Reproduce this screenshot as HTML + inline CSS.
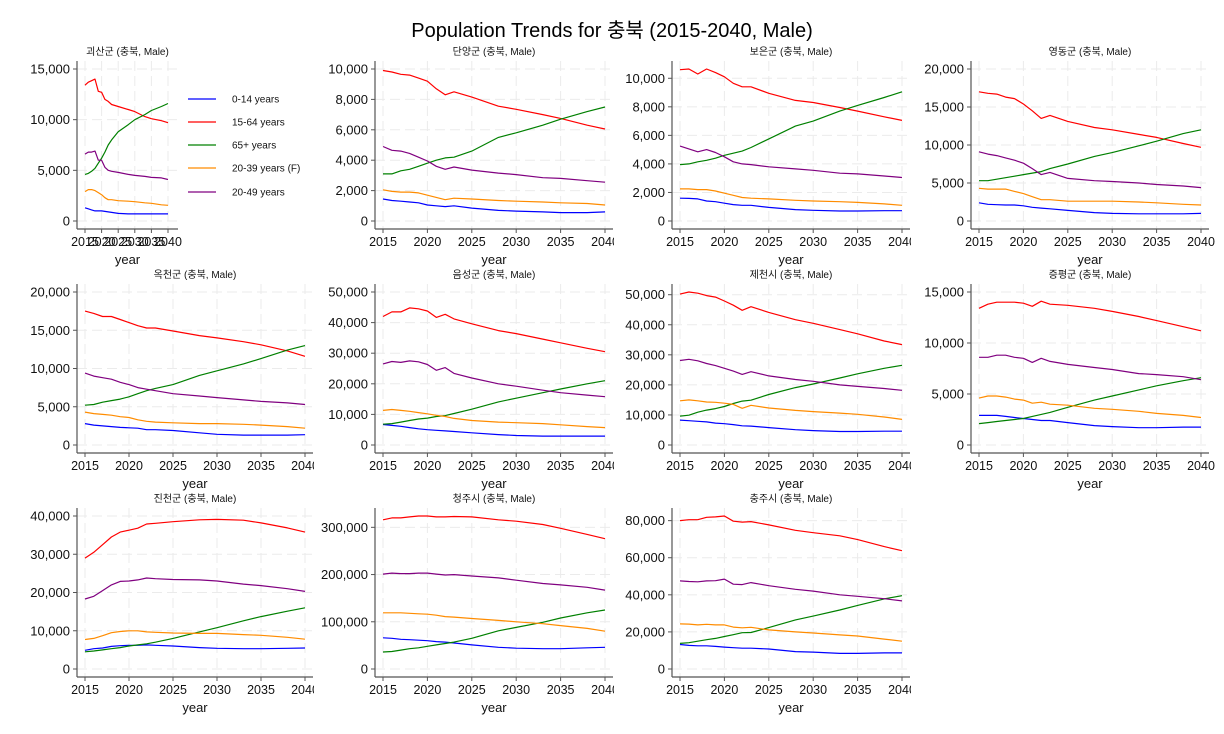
<!DOCTYPE html>
<html><head><meta charset="utf-8">
<style>
html,body{margin:0;padding:0;background:#fff;}
svg{display:block;font-family:"Liberation Sans","Noto Sans CJK KR",sans-serif;}
</style></head>
<body>
<svg id="chart" width="1224" height="734" viewBox="0 0 1224 734">
<rect width="1224" height="734" fill="#fff"/>
<defs id="defs"></defs>
<text x="612" y="37" text-anchor="middle" font-size="20" fill="#000">Population Trends for 충북 (2015-2040, Male)</text>
</svg>
<script>
const years = [2015,2016,2017,2018,2019,2020,2021,2022,2023,2025,2028,2030,2033,2035,2038,2040];
const xTicks = [2015,2020,2025,2030,2035,2040];
const seriesNames = ["0-14 years","15-64 years","65+ years","20-39 years (F)","20-49 years"];
const seriesColors = ["#0000ff","#ff0000","#008000","#ff8c00","#800080"];
const regionNames = ["괴산군","단양군","보은군","영동군","옥천군","음성군","제천시","증평군","진천군","청주시","충주시"];

const goesan_014=[1300,1200,1100,1000,1000,1000,950,900,850,750,700,700,700,700,700,700];
const goesan_1564=[13400,13700,13850,14000,12800,12700,12000,11800,11500,11300,11000,10800,10300,10100,9900,9700];
const goesan_65=[4600,4700,4900,5200,5700,6200,6800,7500,8000,8800,9500,10000,10500,10900,11300,11600];
const goesan_2039=[2900,3100,3100,3000,2800,2600,2300,2100,2100,2000,1950,1900,1800,1750,1600,1550];
const goesan_2049=[6600,6800,6800,6900,6000,6000,5300,5000,4900,4800,4600,4500,4400,4300,4250,4100];

const danyang_014=[1450,1350,1300,1250,1200,1050,1000,950,1000,850,700,650,600,550,550,600];
const danyang_1564=[9900,9800,9650,9600,9400,9200,8700,8300,8500,8150,7550,7350,7000,6750,6300,6050];
const danyang_65=[3100,3100,3300,3400,3600,3800,4000,4150,4200,4600,5500,5800,6300,6700,7200,7500];
const danyang_2039=[2050,1950,1900,1900,1850,1700,1550,1400,1500,1450,1350,1300,1250,1200,1150,1050];
const danyang_2049=[4900,4650,4600,4450,4200,3950,3600,3400,3550,3350,3150,3050,2850,2800,2650,2550];

const boeun_014=[1600,1580,1550,1400,1350,1250,1150,1100,1100,950,800,750,700,700,720,720];
const boeun_1564=[10600,10650,10300,10650,10400,10100,9650,9400,9400,8950,8450,8300,7950,7700,7300,7050];
const boeun_65=[3950,4000,4150,4250,4400,4600,4750,4900,5150,5750,6650,7000,7700,8100,8650,9050];
const boeun_2039=[2250,2250,2200,2200,2100,1950,1800,1650,1600,1550,1450,1400,1350,1300,1200,1100];
const boeun_2049=[5250,5050,4850,5000,4800,4500,4150,4000,3950,3800,3650,3550,3350,3300,3150,3050];

const yeongdong_014=[2400,2200,2150,2100,2100,2000,1800,1700,1600,1400,1100,1000,950,950,950,1000];
const yeongdong_1564=[17000,16800,16700,16300,16100,15400,14500,13500,13900,13100,12300,12000,11400,11000,10200,9700];
const yeongdong_65=[5300,5300,5500,5700,5900,6100,6300,6500,6900,7500,8500,9000,9900,10500,11500,12000];
const yeongdong_2039=[4300,4200,4200,4200,3900,3600,3200,2800,2800,2600,2600,2600,2500,2400,2200,2100];
const yeongdong_2049=[9100,8800,8600,8300,8000,7600,6900,6100,6400,5600,5300,5200,5000,4800,4600,4400];

const okcheon_014=[2800,2600,2500,2400,2300,2250,2200,2000,2000,1900,1600,1400,1300,1300,1300,1350];
const okcheon_1564=[17500,17200,16800,16800,16400,16000,15600,15300,15300,14900,14300,14000,13500,13100,12300,11600];
const okcheon_65=[5200,5300,5600,5800,6000,6300,6700,7100,7400,7900,9100,9700,10600,11300,12400,13000];
const okcheon_2039=[4300,4100,4000,3900,3700,3600,3300,3100,3000,2900,2800,2800,2700,2600,2400,2200];
const okcheon_2049=[9400,9000,8800,8600,8200,7900,7500,7300,7100,6700,6400,6200,5900,5700,5500,5300];

const eumseong_014=[6700,6400,6100,5700,5300,5000,4800,4600,4400,4000,3400,3100,2900,2900,2900,2900];
const eumseong_1564=[42000,43500,43500,44800,44500,43800,41700,42700,41200,39600,37400,36400,34600,33400,31600,30500];
const eumseong_65=[6800,7000,7500,8000,8500,8800,9300,9600,10300,11700,14100,15300,17100,18300,20000,21000];
const eumseong_2039=[11300,11600,11300,11000,10600,10200,9700,9300,8700,8000,7500,7300,7000,6600,6000,5700];
const eumseong_2049=[26500,27300,27000,27500,27200,26300,24400,25300,23400,21900,20000,19200,17900,17100,16300,15800];

const jecheon_014=[8300,8100,7900,7700,7300,7100,6800,6400,6300,5800,5100,4800,4500,4500,4600,4600];
const jecheon_1564=[50200,50900,50500,49700,49200,47900,46500,44800,46000,44100,41700,40500,38400,37000,34600,33400];
const jecheon_65=[9600,9900,10900,11600,12100,12800,13800,14600,14900,16800,19100,20300,22300,23700,25500,26500];
const jecheon_2039=[14700,15000,14700,14300,14200,13900,13500,12200,13200,12300,11500,11100,10600,10200,9300,8500];
const jecheon_2049=[28100,28500,28000,27100,26400,25500,24600,23500,24400,23000,21800,21200,20000,19500,18800,18200];

const jeungpyeong_014=[2900,2900,2900,2800,2700,2600,2500,2400,2400,2200,1900,1800,1700,1700,1750,1750];
const jeungpyeong_1564=[13400,13800,14000,14000,14000,13900,13600,14100,13800,13700,13400,13100,12600,12200,11600,11200];
const jeungpyeong_65=[2100,2200,2300,2400,2500,2600,2800,3000,3200,3700,4400,4800,5400,5800,6300,6600];
const jeungpyeong_2039=[4600,4800,4800,4700,4500,4400,4100,4200,4000,3900,3600,3500,3300,3100,2900,2700];
const jeungpyeong_2049=[8600,8600,8800,8800,8600,8500,8100,8500,8200,7900,7600,7400,7000,6900,6700,6400];

const jincheon_014=[4900,5300,5500,5900,6100,6200,6200,6300,6200,6000,5600,5400,5300,5300,5400,5500];
const jincheon_1564=[29000,30500,32500,34500,35800,36300,36800,37900,38100,38500,39000,39100,38900,38200,36900,35800];
const jincheon_65=[4500,4700,5000,5300,5600,6000,6300,6600,7000,8000,9700,10800,12600,13700,15100,16000];
const jincheon_2039=[7700,8000,8700,9500,9800,10000,10000,9700,9600,9400,9300,9300,9000,8800,8300,7800];
const jincheon_2049=[18300,19000,20500,22000,22900,23000,23300,23800,23600,23400,23300,23000,22200,21800,21000,20300];

const cheongju_014=[66000,65000,63000,62000,61000,60000,58000,57000,55000,51000,46000,44000,43000,43000,45000,46000];
const cheongju_1564=[316000,320000,320000,322000,324000,324000,322000,322000,323000,322000,316000,313000,306000,298000,285000,276000];
const cheongju_65=[36000,37000,40000,43000,45000,48000,51000,54000,57000,65000,81000,88000,99000,108000,119000,125000];
const cheongju_2039=[119000,119000,119000,118000,117000,116000,114000,111000,110000,107000,103000,100000,96000,92000,86000,80000];
const cheongju_2049=[201000,203000,202000,202000,203000,203000,201000,199000,200000,197000,193000,188000,181000,178000,173000,167000];

const chungju_014=[13200,12700,12500,12500,12200,11800,11500,11200,11200,10800,9400,9100,8400,8400,8700,8700];
const chungju_1564=[80000,80500,80500,81800,82000,82500,79700,79200,79500,77700,74800,73500,71800,69800,66000,63800];
const chungju_65=[13800,14200,15000,15800,16500,17500,18500,19600,19700,22300,26500,28500,31800,34300,37800,39500];
const chungju_2039=[24300,24200,23800,24100,23800,23800,22600,22200,22500,21100,20000,19400,18400,17800,16100,15000];
const chungju_2049=[47500,47200,47000,47500,47600,48500,45700,45500,46600,44900,43000,42000,40000,39200,37900,36700];

const yTickStep = [5000,2000,2000,5000,5000,10000,10000,5000,10000,100000,20000];
const yTickMax = [15000,10000,10000,20000,20000,50000,50000,15000,40000,300000,80000];

const panelData = [
 [goesan_014,goesan_1564,goesan_65,goesan_2039,goesan_2049],
 [danyang_014,danyang_1564,danyang_65,danyang_2039,danyang_2049],
 [boeun_014,boeun_1564,boeun_65,boeun_2039,boeun_2049],
 [yeongdong_014,yeongdong_1564,yeongdong_65,yeongdong_2039,yeongdong_2049],
 [okcheon_014,okcheon_1564,okcheon_65,okcheon_2039,okcheon_2049],
 [eumseong_014,eumseong_1564,eumseong_65,eumseong_2039,eumseong_2049],
 [jecheon_014,jecheon_1564,jecheon_65,jecheon_2039,jecheon_2049],
 [jeungpyeong_014,jeungpyeong_1564,jeungpyeong_65,jeungpyeong_2039,jeungpyeong_2049],
 [jincheon_014,jincheon_1564,jincheon_65,jincheon_2039,jincheon_2049],
 [cheongju_014,cheongju_1564,cheongju_65,cheongju_2039,cheongju_2049],
 [chungju_014,chungju_1564,chungju_65,chungju_2039,chungju_2049]
];

const NS="http://www.w3.org/2000/svg";
const svg=document.getElementById('chart');
const defs=document.getElementById('defs');
function mk(tag,attrs,parent){const e=document.createElementNS(NS,tag);for(const k in attrs)e.setAttribute(k,attrs[k]);(parent||svg).appendChild(e);return e;}
const colLayout=[[77,85,168,178],[375,383,605,613],[672,680,902,910],[971,979,1201,1209]];
const rowLayout=[[69,221],[292,445],[516,669]];
function fmt(v){return v.toLocaleString('en-US');}

regionNames.forEach((name,i)=>{
  const r=Math.floor(i/4), c=i%4;
  let [ax,x0,x1,xr]=colLayout[c];
  if(c===0 && i!==0){x1=305;xr=313;}
  const [T,Z]=rowLayout[r];
  const clipLabels = !(i===0 || c===3);
  const cp=mk('clipPath',{id:'clip'+i},defs);
  mk('rect',{x:0,y:0,width:xr+1,height:734},cp);
  const g=mk('g',{});
  
  
  const series=panelData[i];
  let dmax=yTickMax[i];
  series.forEach(s=>s.forEach(v=>{if(v>dmax)dmax=v;}));
  const xs=y=>x0+(y-2015)/(2040-2015)*(x1-x0);
  const ys=v=>Z-(v/dmax)*(Z-T);
  const top=T-8, bot=Z+8;
  for(let v=0;v<=yTickMax[i];v+=yTickStep[i]){
    const gl=mk('line',{x1:ax,x2:xr,y1:ys(v),y2:ys(v),stroke:'#ebebeb','stroke-width':1,'stroke-dasharray':'10,5'},g);
    
    
    const tk=mk('line',{x1:ax-4,x2:ax,y1:ys(v),y2:ys(v),stroke:'#555','stroke-width':1},g);
    
    
    const t=mk('text',{x:ax-7,y:ys(v)+4.5,'text-anchor':'end','font-size':13,fill:'#111'},g);
    t.textContent=fmt(v);
    
    
  }
  const xl=mk('g',clipLabels?{'clip-path':'url(#clip'+i+')'}:{},g);
  
  
  xTicks.forEach(y=>{
    const gl=mk('line',{x1:xs(y),x2:xs(y),y1:top,y2:bot,stroke:'#ebebeb','stroke-width':1,'stroke-dasharray':'10,5'},g);
    
    
    const tk=mk('line',{x1:xs(y),x2:xs(y),y1:bot,y2:bot+4,stroke:'#555','stroke-width':1},g);
    
    
    const t=mk('text',{x:xs(y),y:bot+17,'text-anchor':'middle','font-size':12.5,fill:'#111'},xl);
    t.textContent=y;
    
    
  });
  const a1=mk('line',{x1:ax,x2:ax,y1:top,y2:bot,stroke:'#555','stroke-width':1.2},g);
  
  
  const a2=mk('line',{x1:ax,x2:xr,y1:bot,y2:bot,stroke:'#555','stroke-width':1.2},g);
  
  
  const xt=mk('text',{x:(ax+xr)/2,y:bot+35,'text-anchor':'middle','font-size':13,fill:'#111'},g);
  xt.textContent='year';
  
  
  const pt=mk('text',{x:(ax+xr)/2,y:T-14,'text-anchor':'middle','font-size':10,fill:'#111'},g);
  pt.textContent=name+' (충북, Male)';
  
  
  series.forEach((s,k)=>{
    const d=s.map((v,j)=>(j?'L':'M')+xs(years[j]).toFixed(1)+','+ys(v).toFixed(1)).join(' ');
    const p=mk('path',{d:d,fill:'none',stroke:seriesColors[k],'stroke-width':1.2,'stroke-linejoin':'round'},g);
    
    
  });
});
const legendY=[99,122,145,168,192];
const lg=mk('g',{});


seriesNames.forEach((n,k)=>{
  const l=mk('line',{x1:188,x2:216,y1:legendY[k],y2:legendY[k],stroke:seriesColors[k],'stroke-width':1.3},lg);
  
  
  const t=mk('text',{x:232,y:legendY[k]+3.5,'font-size':10,fill:'#111'},lg);
  t.textContent=n;
  
  
});
</script>
</body></html>
